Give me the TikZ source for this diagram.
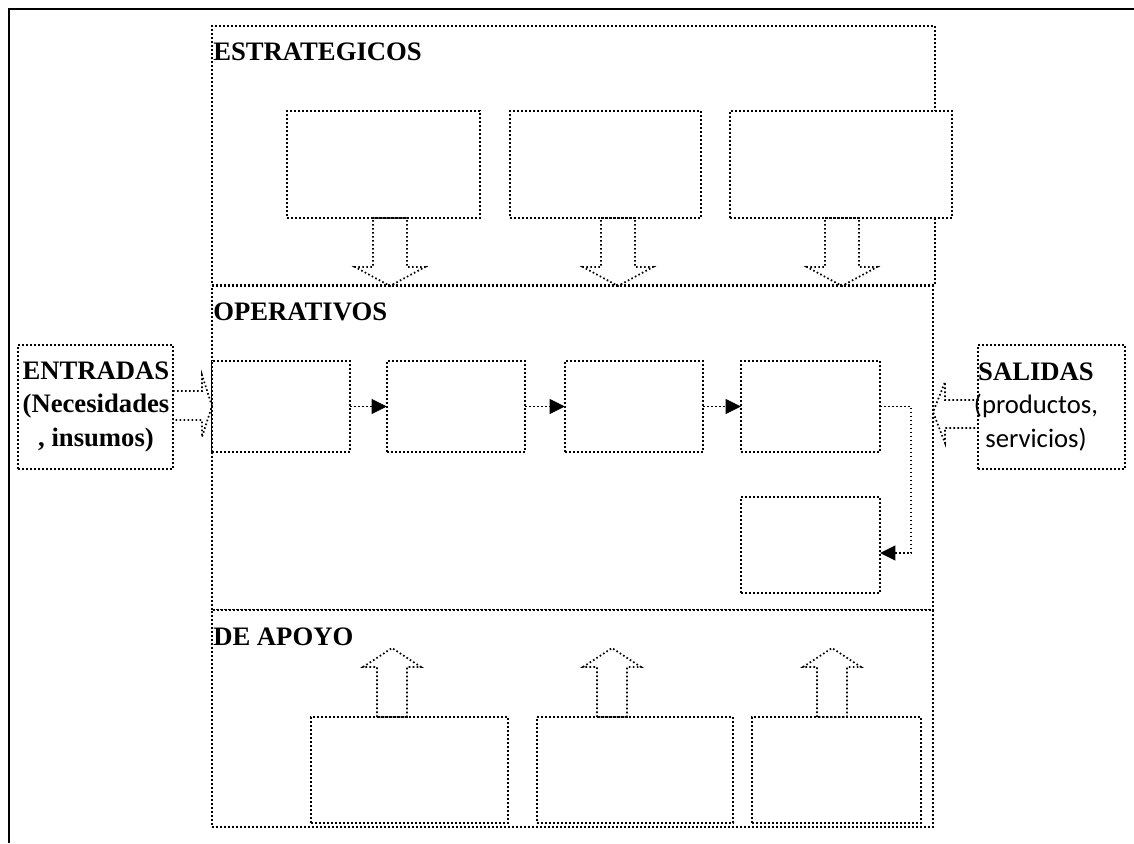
\documentclass[tikz,border=0pt]{standalone}
\usepackage{fontspec}
\setmainfont{Liberation Serif}
\newfontfamily\calibrifont{Carlito}
\usetikzlibrary{arrows.meta}
\begin{document}
\begin{tikzpicture}[x=0.75pt,y=-0.75pt,
  dots/.style={line width=1.3pt,dash pattern=on 1.2pt off 1.8pt},
  bx/.style n args={2}{draw,dots,fill=white,anchor=north west,inner sep=0pt,outer sep=0pt,
    minimum width=#1*0.75pt,minimum height=#2*0.75pt},
  conn/.style={dots,-{Triangle[length=11.5pt,width=11pt]}},
  lbl/.style={anchor=west,inner sep=0pt,font=\fontsize{20}{24}\selectfont\bfseries},
  txt/.style={align=center,inner sep=0pt,font=\fontsize{20}{25}\selectfont}]
\useasboundingbox (0,0) rectangle (1134,843);

% outer frame (top and left sides only)
\draw[line width=1.5pt] (9,843) -- (9,9) -- (1134,9);

% the three process layers
\node[bx={723}{259}] (est) at (212,26) {};
\node[bx={721}{324}] (ope) at (212,286) {};
\node[bx={721}{217}] (apo) at (212,610) {};
\node[lbl] (lest) at (213,52) {ESTRATEGICOS};
\node[lbl] (lope) at (213,312) {OPERATIVOS};
\node[lbl] (lapo) at (213,637) {DE APOYO};

% strategic processes
\node[bx={193}{107}] (s1) at (287,111) {};
\node[bx={191}{107}] (s2) at (510,111) {};
\node[bx={222}{107}] (s3) at (730,111) {};

% hollow arrows pointing down into the operative layer
\foreach \cx in {390,618,842}{
  \draw[dots] (\cx-17,218) -- (\cx+17,218) -- (\cx+17,267) -- (\cx+35,267)
    -- (\cx,286) -- (\cx-35,267) -- (\cx-17,267) -- cycle;
}

% operative processes
\node[bx={138}{91}] (o1) at (212,361) {};
\node[bx={138}{91}] (o2) at (387,361) {};
\node[bx={138}{91}] (o3) at (565,361) {};
\node[bx={139}{91}] (o4) at (741,361) {};
\node[bx={139}{96}] (o5) at (741,497) {};
\draw[conn] (o1.east) -- (o2.west);
\draw[conn] (o2.east) -- (o3.west);
\draw[conn] (o3.east) -- (o4.west);
\coordinate (turn) at (911,553);
\draw[conn] (o4.east) -| (turn) -- ([yshift=-6pt]o5.east);

% support processes
\node[bx={197}{106}] (a1) at (311,717) {};
\node[bx={196}{106}] (a2) at (537,717) {};
\node[bx={169}{106}] (a3) at (752,717) {};

% hollow arrows pointing up into the operative layer
\foreach \cx in {392,612,832}{
  \draw[dots] (\cx-15,717) -- (\cx-15,667) -- (\cx-29,667) -- (\cx,648)
    -- (\cx+29,667) -- (\cx+15,667) -- (\cx+15,717) -- cycle;
}

% inputs
\node[bx={155}{124}] (ent) at (18,345) {};
\node[txt] (tent) at (96,407) {\bfseries ENTRADAS\\\bfseries (Necesidades\\\bfseries , insumos)};
\draw[dots] (ent.east |- 0,391) -- (202,391) -- (202,375) -- (212,406)
  -- (202,437) -- (202,420) -- (ent.east |- 0,420);

% outputs
\node[bx={147}{124}] (sal) at (978,345) {};
\node[txt] (tsal) at (1036,407) {\bfseries SALIDAS\\\calibrifont(productos,\\\calibrifont servicios)};
\draw[dots] (sal.west |- 0,400) -- (945,400) -- (945,382) -- (933,412)
  -- (945,443) -- (945,428) -- (sal.west |- 0,428);
\end{tikzpicture}
\end{document}
